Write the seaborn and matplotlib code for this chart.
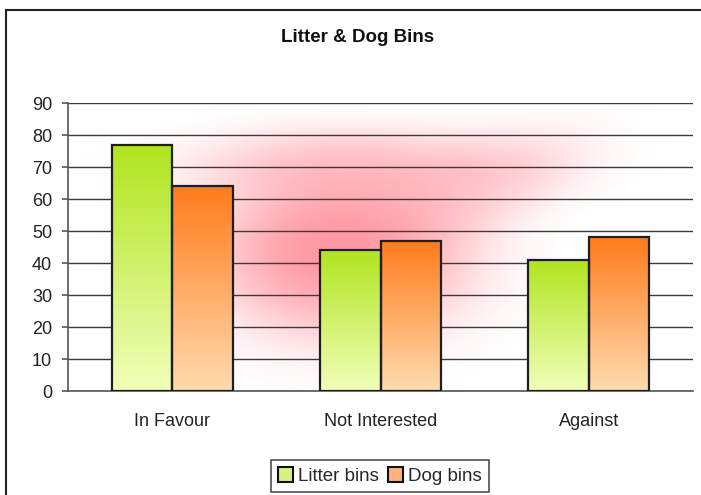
"""Litter & Dog Bins survey chart: grouped bars with gradient fill."""

import matplotlib
matplotlib.use("Agg")
import matplotlib.pyplot as plt
import matplotlib.patches as mpatches
from matplotlib.colors import LinearSegmentedColormap
import numpy as np
import pandas as pd
import seaborn as sns

categories = ["In Favour", "Not Interested", "Against"]
series = ["Litter bins", "Dog bins"]
litter_bins = [77, 44, 41]
dog_bins = [64, 47, 48]
y_ticks = [0, 10, 20, 30, 40, 50, 60, 70, 80, 90]

# top colour -> bottom colour of each bar gradient
grad_colors = {
    "Litter bins": ("#b0e41e", "#f2ffba"),
    "Dog bins": ("#ff7c1c", "#ffdbb0"),
}
legend_colors = {"Litter bins": "#d6f27e", "Dog bins": "#ffb27c"}

df = pd.DataFrame({
    "category": categories * 2,
    "series": [series[0]] * 3 + [series[1]] * 3,
    "value": litter_bins + dog_bins,
})

sns.set_theme(style="white")
plt.rcParams["font.family"] = ["Liberation Sans", "DejaVu Sans"]

fig = plt.figure(figsize=(7.01, 4.95), dpi=100)
W, H = 701, 495
ax = fig.add_axes([68 / W, 1 - 391 / H, 625 / W, 288 / H])

# outer chart frame (clipped at right / bottom like the original)
fig.patches.append(mpatches.Rectangle(
    (6 / W, -0.1), 1.2, 1.1 - 10 / H, transform=fig.transFigure,
    fill=False, edgecolor="#222222", linewidth=1.5, zorder=0))

sns.barplot(data=df, x="category", y="value", hue="series", order=categories,
            hue_order=series, palette=legend_colors, width=0.58,
            edgecolor="#1e1e1e", linewidth=1.6, saturation=1, legend=False, ax=ax)

# soft red glow behind the bars (in axes pixel units)
gx, gy = np.meshgrid(np.linspace(0, 625, 400), np.linspace(0, 288, 200))


def blob(cx, cy, sx, sy, angle_deg, amp, power=1.3):
    a = np.deg2rad(angle_deg)
    u = (gx - cx) * np.cos(a) + (gy - cy) * np.sin(a)
    v = -(gx - cx) * np.sin(a) + (gy - cy) * np.cos(a)
    r2 = (u / sx) ** 2 + (v / sy) ** 2
    return amp * np.exp(-0.5 * r2 ** power)


glow = 1 - ((1 - blob(272, 148, 100, 66, 0, 0.97))
            * (1 - blob(290, 62, 130, 28, 0, 0.45))
            * (1 - blob(405, 85, 90, 35, -20, 0.35)))
rgba = np.zeros(gx.shape + (4,))
rgba[..., 0] = 1.0
rgba[..., 1] = 0.36
rgba[..., 2] = 0.42
rgba[..., 3] = 0.64 * glow
ax.imshow(rgba, extent=(-0.5, 2.5, 0, 90), origin="upper", aspect="auto",
          zorder=0.2, interpolation="bilinear")

# gradient fill inside each bar
for name, container in zip(series, ax.containers):
    cmap = LinearSegmentedColormap.from_list(name, list(grad_colors[name]))
    for bar in container:
        x0, w, h = bar.get_x(), bar.get_width(), bar.get_height()
        bar.set_facecolor("none")
        bar.set_zorder(3)
        grad = np.linspace(0, 1, 256).reshape(-1, 1)
        ax.imshow(grad, cmap=cmap, extent=(x0, x0 + w, 0, h), origin="upper",
                  aspect="auto", zorder=2.5)

ax.set_xlim(-0.5, 2.5)
ax.set_ylim(0, 90)
ax.set_yticks(y_ticks)
ax.set_xlabel("")
ax.set_ylabel("")
ax.yaxis.grid(True, color="#3a3a3a", linewidth=1)
ax.set_axisbelow(True)
for side in ["top", "right"]:
    ax.spines[side].set_visible(False)
for side in ["left", "bottom"]:
    ax.spines[side].set_color("#555555")
    ax.spines[side].set_linewidth(1.2)
ax.set_xticks([-0.5, 0.5, 1.5, 2.5], minor=True)
ax.tick_params(axis="x", which="major", length=0, pad=16, labelsize=13, labelcolor="#222222")
ax.tick_params(axis="x", which="minor", length=4.5, width=1.2, color="#555555", direction="out")
ax.tick_params(axis="y", length=4.5, width=1.2, color="#555555", direction="out", left=True,
               pad=7, labelsize=13, labelcolor="#222222")

fig.text(358 / W, 1 - 38 / H, "Litter & Dog Bins", ha="center", va="center",
         fontsize=13.5, fontweight="bold", color="#111111")

handles = [mpatches.Patch(facecolor=legend_colors[s], edgecolor="#111111", linewidth=1.5, label=s)
           for s in series]
leg = fig.legend(handles=handles, loc="center", bbox_to_anchor=(380 / W, 1 - 476 / H), ncol=2,
                 frameon=True, fancybox=False, shadow=False, fontsize=13.5,
                 handlelength=0.8, handleheight=0.8, handletextpad=0.25, columnspacing=0.5,
                 borderpad=0.4, edgecolor="#222222")
leg.get_frame().set_linewidth(1.2)

fig.savefig("out.png", dpi=100, facecolor="white")
